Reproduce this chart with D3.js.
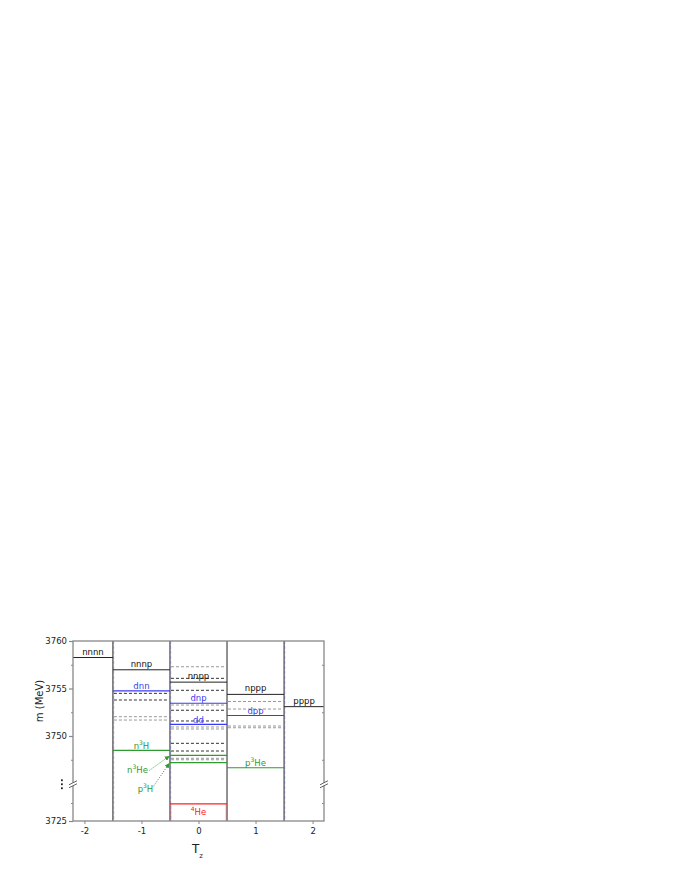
<!DOCTYPE html>
<html>
<head>
<meta charset="utf-8">
<script src="https://cdn.jsdelivr.net/npm/d3@7"></script>
<style>
  body { margin: 0; background: #fff; }
  text { font-family: "DejaVu Sans", sans-serif; }
</style>
</head>
<body>
<svg id="chart" width="681" height="881"></svg>
<script>
//------------------------------------------------------------------------
// Four-nucleon thresholds vs T_z, broken mass axis

// Data: categories and levels (MeV)
const tzTicks     = [-2, -1, 0, 1, 2];

const nucNames    = ['nnnn', 'nnnp', 'nnpp', 'nppp', 'pppp'];
const nucTz       = [-2, -1, 0, 1, 2];
const nucMass     = [3758.26, 3756.97, 3755.67, 3754.38, 3753.09];

const dNames      = ['dnn', 'dnp', 'dpp', 'dd'];
const dTz         = [-1, 0, 1, 0];
const dMass       = [3754.74, 3753.45, 3752.16, 3751.23];

const clPre       = ['n', 'n', 'p', 'p'];
const clPost      = ['H', 'He', 'H', 'He'];
const clTz        = [-1, 0, 0, 1];
const clMass      = [3748.49, 3747.96, 3747.19, 3746.66];

const heTz        = 0;
const heMass      = 3727.38;

const dashTz      = [-1, -1, -1, -1,
                     0, 0, 0, 0, 0, 0, 0, 0, 0, 0, 0, 0,
                     1, 1, 1, 1];
const dashMass    = [3754.49, 3753.79, 3752.03, 3751.68,
                     3757.29, 3756.07, 3754.81, 3753.26, 3752.71, 3751.58,
                     3750.95, 3750.74, 3749.23, 3748.42, 3747.65, 3747.50,
                     3753.63, 3752.84, 3751.05, 3750.87];
const dashTone    = ['d', 'd', 'g', 'g',
                     'g', 'd', 'd', 'g', 'd', 'd', 'g', 'g', 'd', 'd', 'g', 'g',
                     'g', 'g', 'g', 'g'];

const yUpTicks    = [3750, 3755, 3760];
const yUpMinor    = [3747.5, 3752.5, 3757.5];
const yLoTicks    = [3725];
const yLoMinor    = [3727.5];

// Sizes
const margin = {top: 641, left: 73};
const W = 251, H = 180;
const frameCol = '#888';
const blue = '#3a3af0', green = '#2f9a2f', red = '#ff2020';
const plain = d => String(d).replace('\u2212', '-');

const svg = d3.select('#chart');
const g = svg.append('g').attr('transform', `translate(${margin.left},${margin.top})`);

// Scales: one x, two y segments for the broken axis
const x    = d3.scaleLinear().domain([-2.2, 2.2]).range([0, W]);
const yUp  = d3.scaleLinear().domain([3745, 3760]).range([142.5, 0]);
const yLo  = d3.scaleLinear().domain([3725, 3730]).range([H, 144]);
const yAny = m => m >= 3740 ? yUp(m) : yLo(m);
const x0   = tz => Math.max(0, x(tz - 0.5));
const x1   = tz => Math.min(W, x(tz + 0.5));

//------------------------------------------------------------------------
// Column boundaries
const bounds = [-1.5, -0.5, 0.5, 1.5];
g.selectAll('.bnd').data(bounds).enter().append('line')
  .attr('x1', d => x(d)).attr('x2', d => x(d))
  .attr('y1', 0).attr('y2', H)
  .attr('stroke', '#222').attr('stroke-width', 1);
g.selectAll('.bndb').data([-1.5, -0.5, 1.5]).enter().append('line')
  .attr('x1', d => x(d) + 0.8).attr('x2', d => x(d) + 0.8)
  .attr('y1', 0).attr('y2', H)
  .attr('stroke', blue).attr('stroke-width', 0.7)
  .attr('stroke-dasharray', '3,2').attr('opacity', 0.4);

// He-4 box edges
g.selectAll('.heb').data([-0.5, 0.5]).enter().append('line')
  .attr('x1', d => x(d) + (d < 0 ? 1 : -1)).attr('x2', d => x(d) + (d < 0 ? 1 : -1))
  .attr('y1', yLo(heMass)).attr('y2', H)
  .attr('stroke', red).attr('stroke-width', 0.8).attr('opacity', 0.4);

//------------------------------------------------------------------------
// Dashed levels
g.selectAll('.dash').data(dashMass).enter().append('line')
  .attr('x1', (d, i) => x0(dashTz[i]) + 1).attr('x2', (d, i) => x1(dashTz[i]) - 1)
  .attr('y1', d => yUp(d)).attr('y2', d => yUp(d))
  .attr('stroke', (d, i) => dashTone[i] === 'd' ? '#333' : '#999')
  .attr('stroke-width', 1)
  .attr('stroke-dasharray', '3,2');

// Helper to draw a solid level
function level(tz, m, col, w) {
  g.append('line')
    .attr('x1', x0(tz)).attr('x2', x1(tz))
    .attr('y1', yAny(m)).attr('y2', yAny(m))
    .attr('stroke', col).attr('stroke-width', w);
}

nucMass.forEach((m, i) => level(nucTz[i], m, '#222', 1));
dMass.forEach((m, i) => level(dTz[i], m, blue, 1.2));
clMass.forEach((m, i) => level(clTz[i], m, green, 1.2));
level(heTz, heMass, red, 1.4);

//------------------------------------------------------------------------
// Level labels
const lbl = (cx, cy, col) => g.append('text')
  .attr('x', cx).attr('y', cy)
  .attr('text-anchor', 'middle')
  .attr('font-size', '8.5px')
  .attr('fill', col);

nucNames.forEach((n, i) => {
  const cx = (x0(nucTz[i]) + x1(nucTz[i])) / 2;
  lbl(cx, yUp(nucMass[i]) - 3, '#111').text(n);
});
dNames.forEach((n, i) => {
  lbl(x(dTz[i]), yUp(dMass[i]) - 1.8, blue).text(n);
});

// n3H, p3He sit on their lines; n3He, p3H are offset with arrows
const clLabelPos = [
  [x(-1), yUp(clMass[0]) - 1.5],
  [x(-1) - 4, yUp(clMass[0]) + 23],
  [x(-1) + 4, yUp(clMass[0]) + 42],
  [x(1), yUp(clMass[3]) - 1.5]
];
clMass.forEach((m, i) => {
  const t = lbl(clLabelPos[i][0], clLabelPos[i][1], green);
  t.append('tspan').text(clPre[i]);
  t.append('tspan').attr('dy', -4).attr('font-size', '6px').text('3');
  t.append('tspan').attr('dy', 4).text(clPost[i]);
});

// Dotted arrows to the column-0 lines
svg.append('defs').append('marker')
  .attr('id', 'arr').attr('viewBox', '0 0 6 6')
  .attr('refX', 5).attr('refY', 3)
  .attr('markerWidth', 5).attr('markerHeight', 5)
  .attr('orient', 'auto')
  .append('path').attr('d', 'M0,0 L6,3 L0,6 Z').attr('fill', green);

[[1, clLabelPos[1][0] + 12, clLabelPos[1][1] - 3],
 [2, clLabelPos[2][0] + 8, clLabelPos[2][1] - 6]].forEach(a => {
  g.append('line')
    .attr('x1', a[1]).attr('y1', a[2])
    .attr('x2', x(-0.5) - 1).attr('y2', yUp(clMass[a[0]]) + 1)
    .attr('stroke', green).attr('stroke-width', 1)
    .attr('stroke-dasharray', '1,1.5')
    .attr('marker-end', 'url(#arr)');
});

// He-4 label
const he = lbl(x(heTz), yLo(heMass) + 11, red);
he.append('tspan').attr('font-size', '6px').attr('dy', -4).text('4');
he.append('tspan').attr('dy', 4).text('He');

//------------------------------------------------------------------------
// Frame
g.append('rect').attr('width', W).attr('height', H)
  .attr('fill', 'none').attr('stroke', frameCol).attr('stroke-width', 1.3);

// Y axes (left labelled, right mirrored minor ticks)
function yAxisDraw(scale, major, minor) {
  const a = g.append('g').call(d3.axisLeft(scale).tickValues(major)
    .tickFormat(plain).tickSize(4).tickPadding(2));
  a.select('.domain').remove();
  a.selectAll('line').attr('stroke', frameCol).attr('stroke-width', 1.2);
  a.selectAll('text').attr('font-size', '8.5px').attr('fill', '#222');
  const b = g.append('g').call(d3.axisLeft(scale).tickValues(minor).tickSize(2).tickFormat(''));
  b.select('.domain').remove();
  b.selectAll('line').attr('stroke', frameCol);
  const c = g.append('g').attr('transform', `translate(${W},0)`)
    .call(d3.axisLeft(scale).tickValues(minor).tickSize(2).tickFormat(''));
  c.select('.domain').remove();
  c.selectAll('line').attr('stroke', frameCol);
}
yAxisDraw(yUp, yUpTicks, yUpMinor);
yAxisDraw(yLo, yLoTicks, yLoMinor);

// X axis
const xa = g.append('g').attr('transform', `translate(0,${H})`)
  .call(d3.axisBottom(x).tickValues(tzTicks).tickFormat(plain).tickSize(3).tickPadding(4));
xa.select('.domain').remove();
xa.selectAll('line').attr('stroke', frameCol);
xa.selectAll('text').attr('font-size', '8.5px').attr('fill', '#222');

// Axis break marks
const yb = (yUp(3745) + yLo(3730)) / 2;
[0, W].forEach(bx => {
  g.append('rect').attr('x', bx - 2).attr('y', yb - 1.5).attr('width', 4).attr('height', 3).attr('fill', '#fff');
  [-1.5, 1.5].forEach(o => g.append('line')
    .attr('x1', bx - 4).attr('y1', yb + 2 + o)
    .attr('x2', bx + 4).attr('y2', yb - 2 + o)
    .attr('stroke', '#555').attr('stroke-width', 0.9));
});
g.selectAll('.dot').data([-4, 0, 4]).enter().append('rect')
  .attr('x', -12).attr('y', d => yb + d - 0.9)
  .attr('width', 1.8).attr('height', 1.8).attr('fill', '#222');

// Axis titles
svg.append('text')
  .attr('transform', `translate(43,${margin.top + 60}) rotate(-90)`)
  .attr('text-anchor', 'middle').attr('font-size', '10px').attr('fill', '#222')
  .text('m (MeV)');

const tz = svg.append('text')
  .attr('x', margin.left + x(0) - 1).attr('y', 853)
  .attr('text-anchor', 'middle').attr('font-size', '12px').attr('fill', '#222');
tz.append('tspan').text('T');
tz.append('tspan').attr('dy', 5).attr('font-size', '7px').text('z');
</script>
</body>
</html>
